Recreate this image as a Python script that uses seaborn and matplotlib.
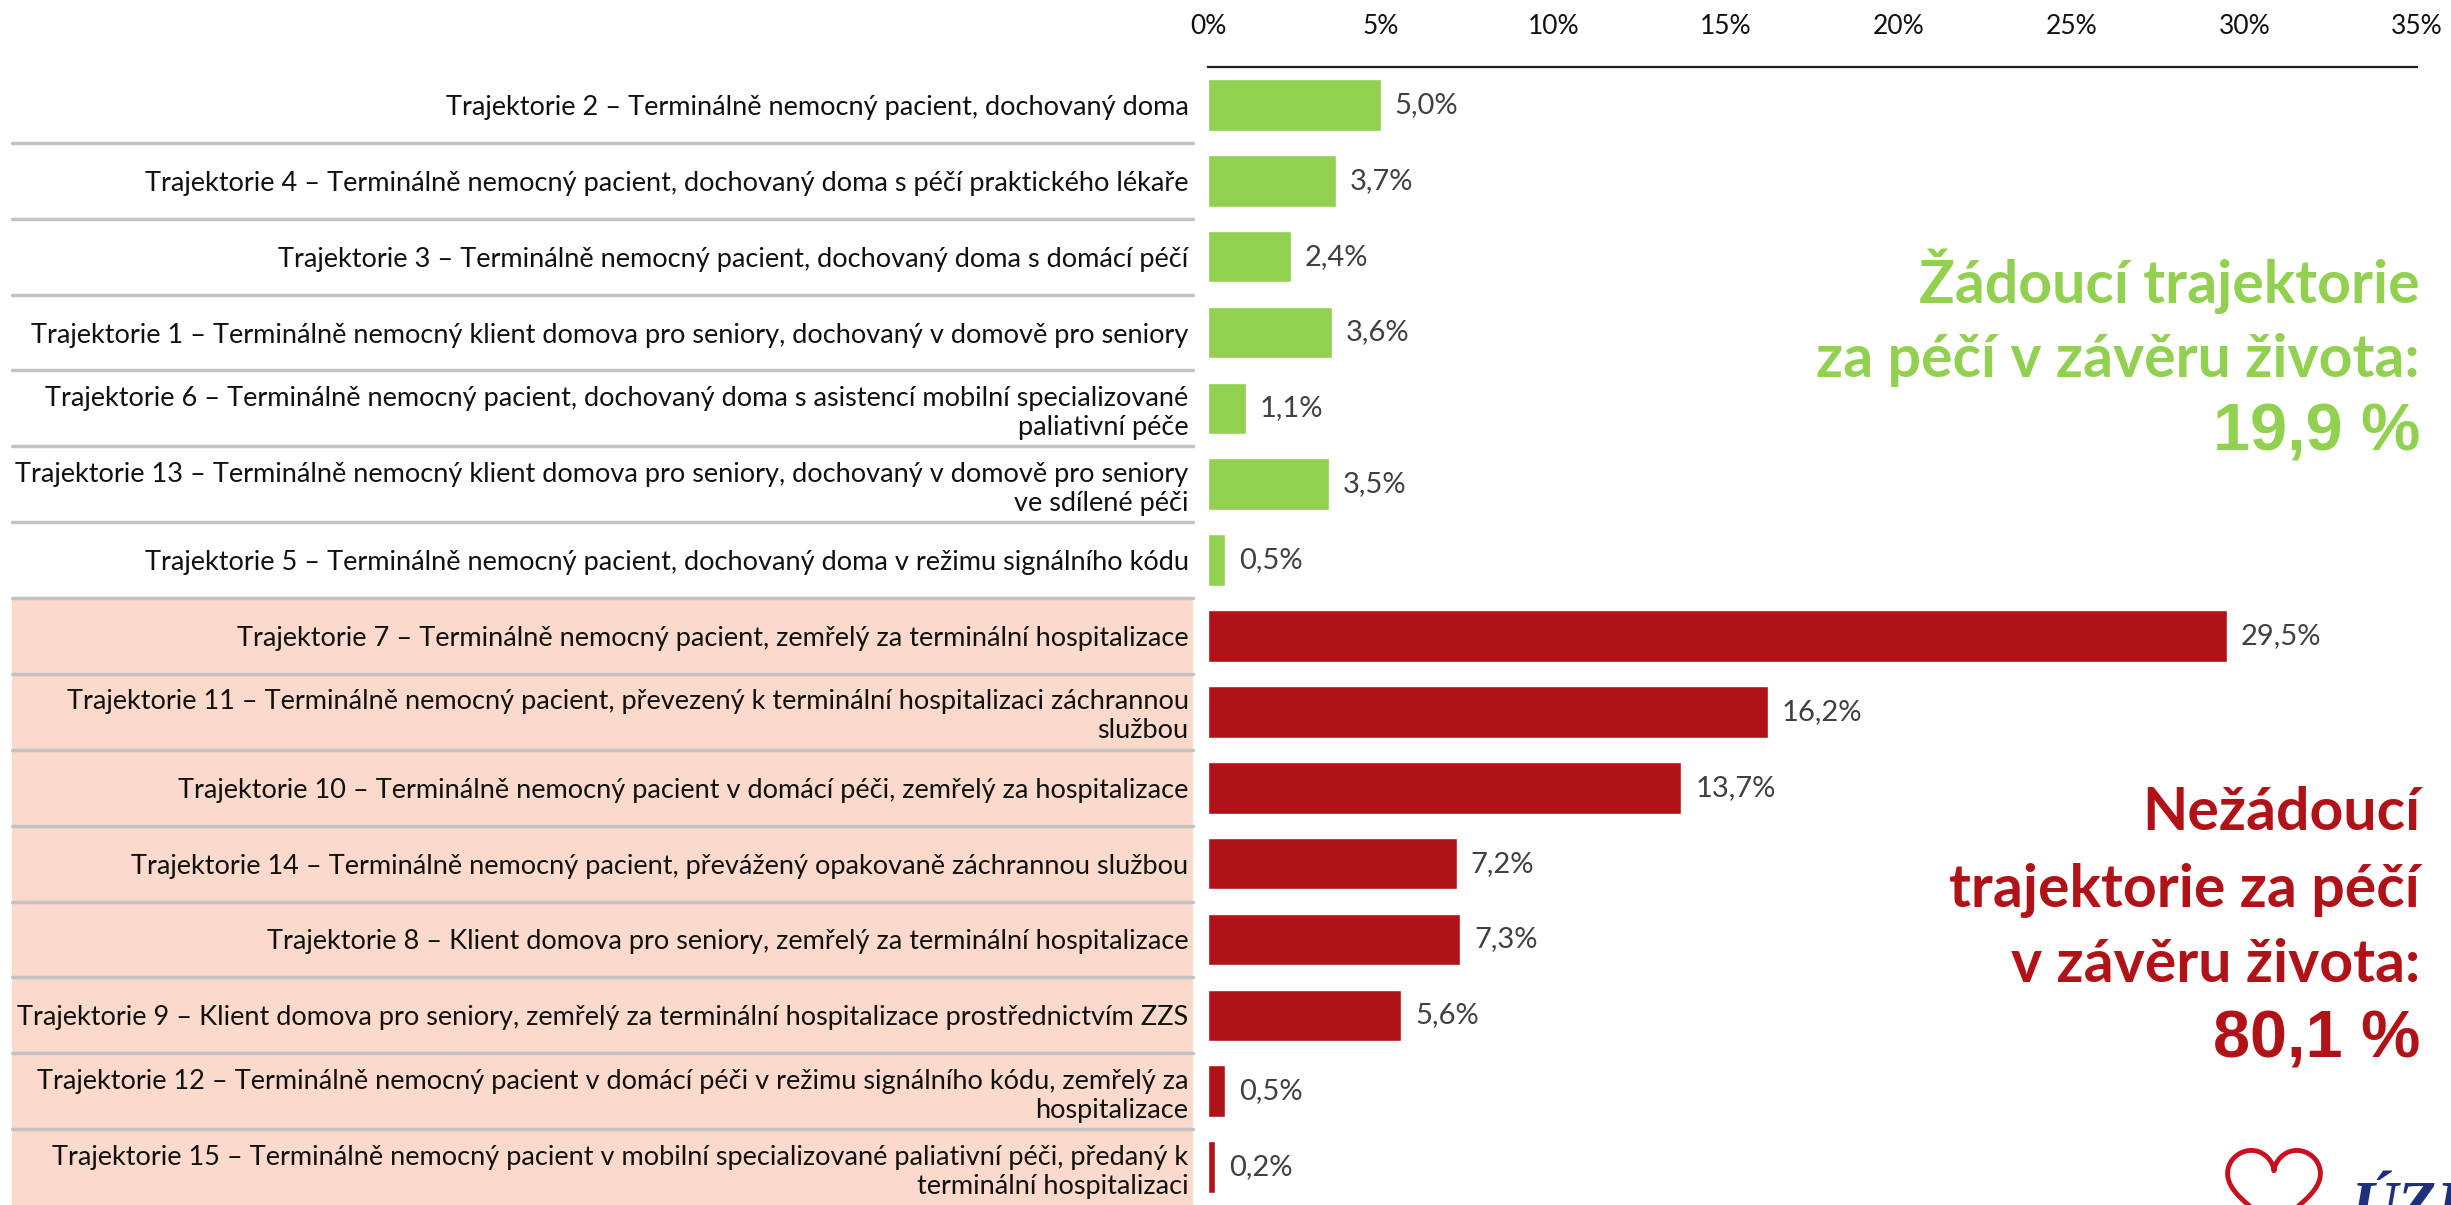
import numpy as np
import pandas as pd
import matplotlib.pyplot as plt
import matplotlib.transforms as mtransforms
from matplotlib.patches import Rectangle
import seaborn as sns

# ---------------------------------------------------
# data
# ---------------------------------------------------
labels = [
    "Trajektorie 2 – Terminálně nemocný pacient, dochovaný doma",
    "Trajektorie 4 – Terminálně nemocný pacient, dochovaný doma s péčí praktického lékaře",
    "Trajektorie 3 – Terminálně nemocný pacient, dochovaný doma s domácí péčí",
    "Trajektorie 1 – Terminálně nemocný klient domova pro seniory, dochovaný v domově pro seniory",
    "Trajektorie 6 – Terminálně nemocný pacient, dochovaný doma s asistencí mobilní specializované\npaliativní péče",
    "Trajektorie 13 – Terminálně nemocný klient domova pro seniory, dochovaný v domově pro seniory\nve sdílené péči",
    "Trajektorie 5 – Terminálně nemocný pacient, dochovaný doma v režimu signálního kódu",
    "Trajektorie 7 – Terminálně nemocný pacient, zemřelý za terminální hospitalizace",
    "Trajektorie 11 – Terminálně nemocný pacient, převezený k terminální hospitalizaci záchrannou\nslužbou",
    "Trajektorie 10 – Terminálně nemocný pacient v domácí péči, zemřelý za hospitalizace",
    "Trajektorie 14 – Terminálně nemocný pacient, převážený opakovaně záchrannou službou",
    "Trajektorie 8 – Klient domova pro seniory, zemřelý za terminální hospitalizace",
    "Trajektorie 9 – Klient domova pro seniory, zemřelý za terminální hospitalizace prostřednictvím ZZS",
    "Trajektorie 12 – Terminálně nemocný pacient v domácí péči v režimu signálního kódu, zemřelý za\nhospitalizace",
    "Trajektorie 15 – Terminálně nemocný pacient v mobilní specializované paliativní péči, předaný k\nterminální hospitalizaci",
]
values = [5.0, 3.7, 2.4, 3.6, 1.1, 3.5, 0.5, 29.5, 16.2, 13.7, 7.2, 7.3, 5.6, 0.5, 0.2]
groups = ["zadouci"] * 7 + ["nezadouci"] * 8

x_ticks = [0, 5, 10, 15, 20, 25, 30, 35]

good_lines = ["Žádoucí trajektorie", "za péčí v závěru života:"]
good_total = "19,9 %"
bad_lines = ["Nežádoucí", "trajektorie za péčí", "v závěru života:"]
bad_total = "80,1 %"

# barvy
GREEN = "#92D050"
RED = "#B01218"
PINK = "#FBD9CB"
SEP = "#C3C3C3"

df = pd.DataFrame({"label": labels, "value": values, "group": groups})

# ---------------------------------------------------
# kreslení
# ---------------------------------------------------
sns.set_style("white")
plt.rcParams['font.family'] = ['Lato', 'DejaVu Sans']

fig = plt.figure(figsize=(24.51, 12.05), dpi=100)
ax = fig.add_axes([1208 / 2451, 0.0, (2417 - 1208) / 2451, 1 - 67 / 1205])

sns.barplot(data=df, x="value", y="label", hue="group",
            palette={"zadouci": GREEN, "nezadouci": RED},
            dodge=False, width=0.68, legend=False, ax=ax, saturation=1)

ax.set_xlim(0, 35)
ax.set_ylim(len(labels) - 0.5, -0.5)
ax.set_xticks(x_ticks)
ax.set_xticklabels([f"{t}%" for t in x_ticks], fontsize=19, color="#111111")
ax.xaxis.tick_top()
ax.tick_params(axis="x", length=0, pad=20)
ax.tick_params(axis="y", length=0, pad=14, labelsize=19.5, labelcolor="#111111")
ax.set_xlabel("")
ax.set_ylabel("")
for s in ["left", "right", "bottom"]:
    ax.spines[s].set_visible(False)
ax.spines["top"].set_color("#222222")
ax.spines["top"].set_linewidth(1.6)

# růžové pozadí a oddělovače řádků
blend = mtransforms.blended_transform_factory(fig.transFigure, ax.transData)
x0, x1 = 12 / 2451, 1193 / 2451
first_bad = groups.index("nezadouci")
ax.add_patch(Rectangle((x0, first_bad - 0.5), x1 - x0, len(labels) - first_bad,
                       transform=blend, facecolor=PINK, edgecolor="none",
                       clip_on=False, zorder=0))
for i in range(len(labels) - 1):
    ax.plot([x0, x1], [i + 0.5, i + 0.5], transform=blend, color=SEP,
            lw=2.5, clip_on=False, zorder=1)

# popisky hodnot
for i, v in enumerate(values):
    ax.annotate(f"{v:.1f}%".replace(".", ","), xy=(v, i), xytext=(10, 0),
                textcoords="offset points", ha="left", va="center",
                fontsize=21, color="#404040")

# souhrnné texty vpravo
xr = 2420 / 2451
for y, t in zip([281, 360], good_lines):
    fig.text(xr, 1 - y / 1205, t, ha="right", va="center", fontsize=42.5,
             fontweight="bold", color=GREEN)
fig.text(xr, 1 - 433 / 1205, good_total, ha="right", va="center", fontsize=48,
         fontweight="bold", color=GREEN, family="Liberation Sans")
for y, t in zip([813, 891, 965], bad_lines):
    fig.text(xr, 1 - y / 1205, t, ha="right", va="center", fontsize=42.5,
             fontweight="bold", color=RED)
fig.text(xr, 1 - 1040 / 1205, bad_total, ha="right", va="center", fontsize=48,
         fontweight="bold", color=RED, family="Liberation Sans")

# logo (zjednodušeně)
t = np.linspace(0, 2 * np.pi, 200)
hx = 16 * np.sin(t) ** 3
hy = 13 * np.cos(t) - 5 * np.cos(2 * t) - 2 * np.cos(3 * t) - np.cos(4 * t)
lx = 2274 + hx * 2.9
ly = 1185 - hy * 2.9
fig.add_artist(plt.Line2D(lx / 2451, 1 - ly / 1205, color="#C8101E", lw=3.5))
fig.text(2352 / 2451, 1 - 1225 / 1205, "ÚZIS", ha="left", va="baseline",
         fontsize=46, fontweight="bold", style="italic", color="#1F2F7A",
         family="Liberation Serif")

fig.savefig("out.png", dpi=100)
